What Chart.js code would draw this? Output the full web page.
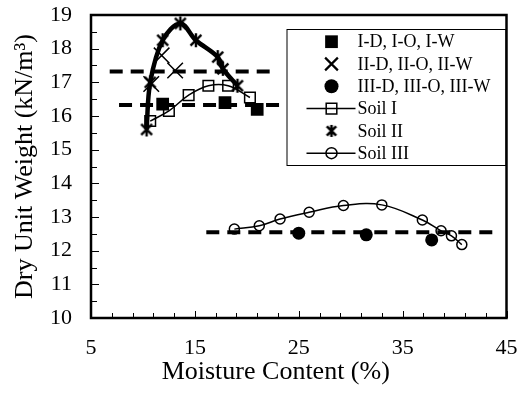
<!DOCTYPE html>
<html><head><meta charset="utf-8">
<script src="https://cdn.jsdelivr.net/npm/chart.js@4.4.1/dist/chart.umd.min.js"></script>
<style>html,body{margin:0;padding:0;background:#fff}#wrap{width:519px;height:398px}</style>
</head><body><div id="wrap"><canvas id="c" width="519" height="398"></canvas></div>
<script>
// ---- data ----
const xTicks = [5, 15, 25, 35, 45];
const yTicks = [10, 11, 12, 13, 14, 15, 16, 17, 18, 19];
const xTitle = 'Moisture Content (%)';
const yTitle = 'Dry Unit Weight (kN/m\u00B3)';

const labelI = 'I-D, I-O, I-W';
const groupIX = [11.9, 17.9, 21.0];
const groupIY = [16.35, 16.4, 16.2];

const labelII = 'II-D, II-O, II-W';
const groupIIX = [10.8, 11.8, 13.1];
const groupIIY = [16.95, 17.8, 17.35];

const labelIII = 'III-D, III-O, III-W';
const groupIIIX = [25.0, 31.5, 37.8];
const groupIIIY = [12.52, 12.47, 12.32];

const labelSoilI = 'Soil I';
const soilIX = [10.7, 12.5, 14.4, 16.3, 18.2, 20.3];
const soilIY = [15.85, 16.15, 16.62, 16.9, 16.9, 16.55];

const labelSoilII = 'Soil II';
const soilIIX = [10.35, 10.7, 11.9, 13.6, 15.1, 17.2, 17.7, 19.1];
const soilIIY = [15.6, 17.0, 18.25, 18.75, 18.25, 17.75, 17.4, 16.9];

const labelSoilIII = 'Soil III';
const soilIIIX = [18.8, 21.2, 23.2, 26.0, 29.3, 33.0, 36.9, 38.7, 39.7, 40.7];
const soilIIIY = [12.64, 12.74, 12.94, 13.14, 13.34, 13.36, 12.91, 12.59, 12.44, 12.18];

const avgIX = [7.7, 23.9];
const avgIY = [16.33, 16.33];
const avgIIX = [6.8, 22.2];
const avgIIY = [17.32, 17.32];
const avgIIIX = [16.1, 43.9];
const avgIIIY = [12.55, 12.55];

// ---- helpers ----
const pts = (xs, ys) => xs.map((x, i) => ({x: x, y: ys[i]}));
const FONT = "'Liberation Serif', 'Times New Roman', serif";

function makeAsterisk(size, lw) {
  const c = document.createElement('canvas');
  c.width = size; c.height = size;
  const g = c.getContext('2d');
  g.strokeStyle = '#000'; g.lineWidth = lw;
  const m = size / 2, r = size / 2 - 1;
  const d = r * 0.78;
  g.beginPath();
  g.moveTo(m, m - r); g.lineTo(m, m + r);
  g.moveTo(m - d, m - d); g.lineTo(m + d, m + d);
  g.moveTo(m - d, m + d); g.lineTo(m + d, m - d);
  g.stroke();
  return c;
}
const asteriskPlot = makeAsterisk(16, 2.4);
const asteriskLegend = makeAsterisk(14, 2.6);

function dashed(data) {
  return {data: data, showLine: true, borderColor: '#000', borderWidth: 4, tension: 0,
    borderDash: [13, 8], pointRadius: 0, fill: false, legendEntry: false};
}

const datasets = [
  {label: labelI, data: pts(groupIX, groupIY), showLine: false, pointStyle: 'rect',
   pointRadius: 9, pointBackgroundColor: '#000', pointBorderColor: '#000', pointBorderWidth: 0,
   legendEntry: true, legendRadius: 9},
  {label: labelII, data: pts(groupIIX, groupIIY), showLine: false, pointStyle: 'crossRot',
   pointRadius: 11, pointBackgroundColor: '#000', pointBorderColor: '#000', pointBorderWidth: 1.5,
   legendEntry: true, legendRadius: 9, legendBorderWidth: 2.2},
  {label: labelIII, data: pts(groupIIIX, groupIIIY), showLine: false, pointStyle: 'circle',
   pointRadius: 6.5, pointBackgroundColor: '#000', pointBorderColor: '#000', pointBorderWidth: 0,
   legendEntry: true, legendRadius: 7},
  {label: labelSoilI, data: pts(soilIX, soilIY), showLine: true, tension: 0.4,
   borderColor: '#000', borderWidth: 1.5, pointStyle: 'rect', pointRadius: 7.5,
   pointBackgroundColor: 'rgba(255,255,255,0)', pointBorderColor: '#000', pointBorderWidth: 1.5,
   legendEntry: true, legendRadius: 7.5},
  {label: labelSoilII, data: pts(soilIIX, soilIIY), showLine: true, tension: 0.35,
   borderColor: '#000', borderWidth: 4.5, pointStyle: asteriskPlot, pointRadius: 8,
   pointBorderColor: '#000', legendEntry: true, legendStyle: asteriskLegend, legendLine: false},
  {label: labelSoilIII, data: pts(soilIIIX, soilIIIY), showLine: true, tension: 0.4,
   borderColor: '#000', borderWidth: 1.5, pointStyle: 'circle', pointRadius: 5,
   pointBackgroundColor: 'rgba(255,255,255,0)', pointBorderColor: '#000', pointBorderWidth: 1.5,
   legendEntry: true, legendRadius: 5.5},
  dashed(pts(avgIX, avgIY)),
  dashed(pts(avgIIX, avgIIY)),
  dashed(pts(avgIIIX, avgIIIY))
];

// ---- plugins ----
const framePlugin = {
  id: 'frameTicks',
  afterDraw(chart) {
    const {ctx, chartArea: a, scales} = chart;
    const xs = scales.x, ys = scales.y;
    ctx.save();
    ctx.strokeStyle = '#000';
    // legend
    const w = 220, h = 137;
    const left = a.right - w, top = a.top + 14;
    ctx.fillStyle = '#fff';
    ctx.fillRect(left, top, w, h);
    ctx.lineWidth = 1;
    ctx.strokeRect(left + 0.5, top + 0.5, w - 1, h - 1);
    const items = chart.data.datasets.filter(d => d.legendEntry);
    ctx.font = '18px ' + FONT;
    ctx.textBaseline = 'middle';
    ctx.textAlign = 'left';
    items.forEach((d, i) => {
      const y = top + 12.7 + i * 22.3;
      const sx = left + 45;
      if (d.showLine && d.legendLine !== false) {
        ctx.beginPath();
        ctx.lineWidth = d.borderWidth;
        ctx.strokeStyle = d.borderColor;
        ctx.moveTo(left + 20, y); ctx.lineTo(left + 69, y);
        ctx.stroke();
      }
      ctx.fillStyle = d.pointBackgroundColor || '#000';
      ctx.strokeStyle = d.pointBorderColor || '#000';
      const bw = d.legendBorderWidth || d.pointBorderWidth || 0;
      ctx.lineWidth = bw;
      Chart.helpers.drawPoint(ctx, {pointStyle: d.legendStyle || d.pointStyle,
        radius: d.legendRadius || d.pointRadius, rotation: 0, borderWidth: bw}, sx, y);
      ctx.fillStyle = '#000';
      ctx.fillText(d.label, left + 71, y + 1);
    });
    // ticks (inward)
    ctx.strokeStyle = '#000';
    ctx.lineWidth = 1;
    ctx.beginPath();
    for (let v = xs.min; v <= xs.max + 1e-9; v += 2) {
      const px = Math.round(xs.getPixelForValue(v)) + 0.5;
      const major = xTicks.some(t => Math.abs(t - v) < 1e-6);
      ctx.moveTo(px, a.bottom); ctx.lineTo(px, a.bottom - (major ? 7 : 5));
    }
    for (let v = ys.min; v <= ys.max + 1e-9; v += 0.5) {
      const py = Math.round(ys.getPixelForValue(v)) + 0.5;
      const major = yTicks.some(t => Math.abs(t - v) < 1e-6);
      ctx.moveTo(a.left, py); ctx.lineTo(a.left + (major ? 8 : 6), py);
    }
    ctx.stroke();
    // frame
    ctx.lineWidth = 2.5;
    ctx.strokeRect(a.left, a.top, a.right - a.left, a.bottom - a.top);
    // x axis title
    ctx.fillStyle = '#000';
    ctx.font = '26px ' + FONT;
    ctx.textAlign = 'center';
    ctx.textBaseline = 'middle';
    ctx.fillText(xTitle, (a.left + a.right) / 2 - 23, 372);
    ctx.restore();
  }
};

new Chart(document.getElementById('c'), {
  type: 'scatter',
  data: {datasets: datasets},
  options: {
    responsive: false,
    animation: false,
    devicePixelRatio: 1,
    layout: {padding: {top: 15, right: 11, left: 0, bottom: 0}},
    plugins: {legend: {display: false}, tooltip: {enabled: false}},
    scales: {
      x: {
        type: 'linear', min: 5, max: 45,
        afterBuildTicks: s => { s.ticks = xTicks.map(v => ({value: v})); },
        afterFit: s => { s.height = 80; s.paddingLeft = 0; s.paddingRight = 0; },
        grid: {display: false, drawTicks: false},
        border: {display: false},
        ticks: {color: '#000', font: {family: FONT, size: 22}, padding: 17, maxRotation: 0, autoSkip: false},
        title: {display: false}
      },
      y: {
        type: 'linear', min: 10, max: 19,
        afterBuildTicks: s => { s.ticks = yTicks.map(v => ({value: v})); },
        afterFit: s => { s.width = 91; s.paddingTop = 0; s.paddingBottom = 0; },
        grid: {display: false, drawTicks: false},
        border: {display: false},
        ticks: {color: '#000', font: {family: FONT, size: 22}, padding: 19, autoSkip: false},
        title: {display: true, text: yTitle, color: '#000', font: {family: FONT, size: 26}, padding: {top: 10, bottom: 0}}
      }
    }
  },
  plugins: [framePlugin]
});
</script>
</body></html>
